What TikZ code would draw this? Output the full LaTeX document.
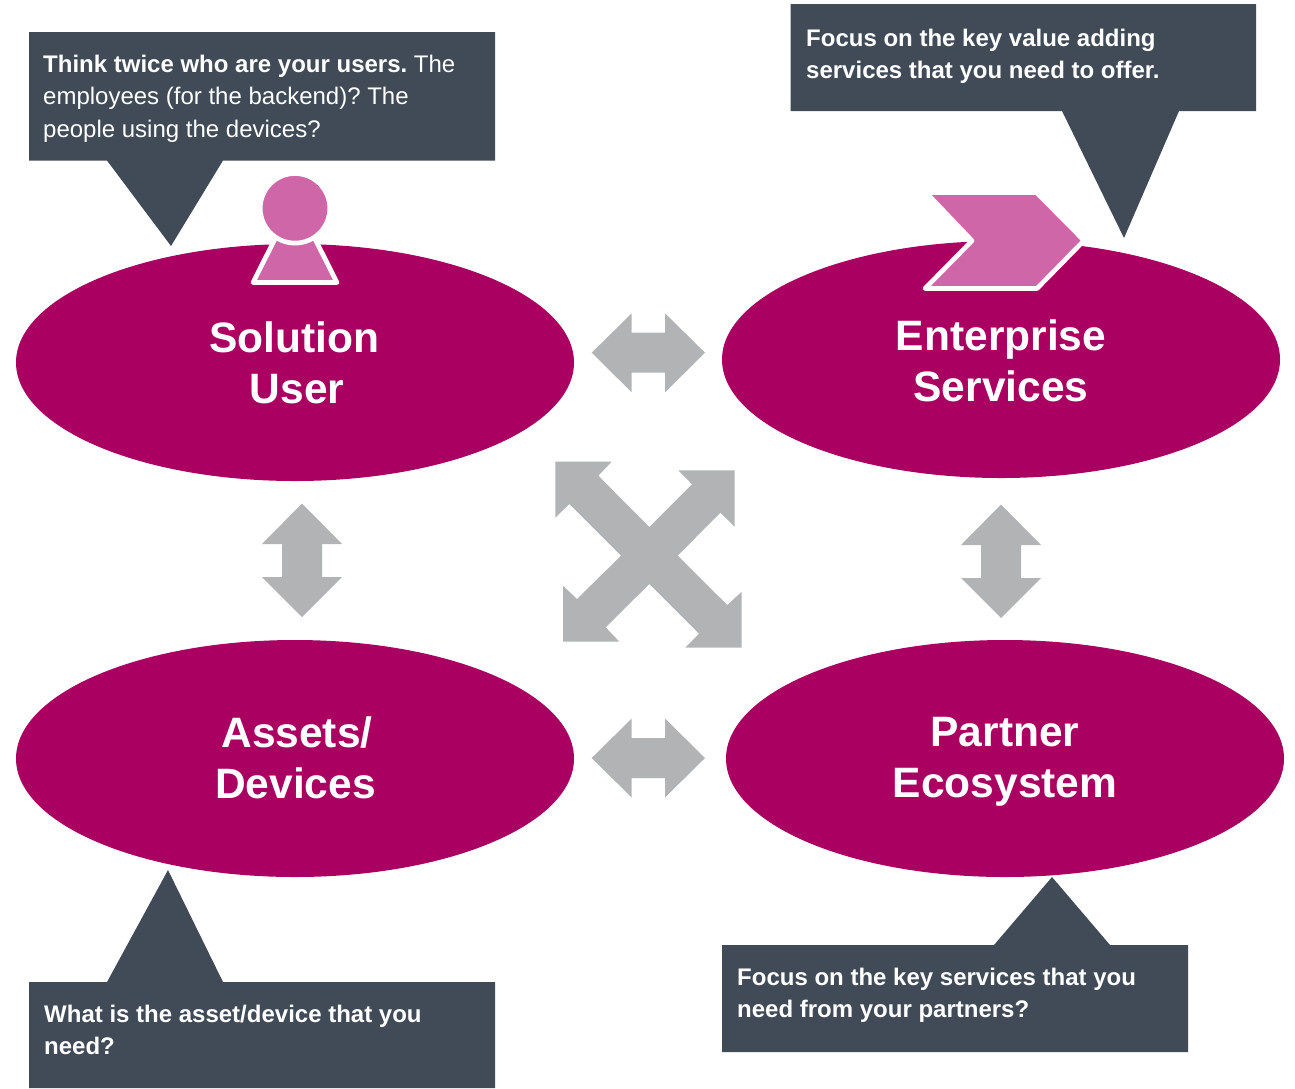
\documentclass[tikz,border=0pt]{standalone}
\usepackage{fontspec}
\setmainfont{Liberation Sans}
\usetikzlibrary{shapes.geometric}
\definecolor{berry}{HTML}{A90061}
\definecolor{lightberry}{HTML}{CE66A8}
\definecolor{slatebox}{HTML}{404B57}
\definecolor{arrowgrey}{HTML}{B1B3B5}
\tikzset{
  hub/.style={ellipse,fill=berry,minimum width=558pt,minimum height=237pt,inner sep=0pt},
  hubtext/.style={text=white,inner sep=0pt,align=center,
    font=\fontsize{42.5}{51}\selectfont\bfseries},
  callout/.style={fill=slatebox,draw=none},
  note/.style={anchor=north west,inner sep=0pt,text=white,align=left,
    font=\frenchspacing\fontsize{24}{32.3}\selectfont},
  blockarrow/.style={fill=arrowgrey,draw=none},
  icon/.style={fill=lightberry,draw=white,line width=4.7pt,line join=round},
}
\begin{document}
\begin{tikzpicture}[x=1pt,y=-1pt]
\useasboundingbox (0,0) rectangle (1295,1088);
% hubs
\node[hub] (user) at (295,362.5) {};
\node[hub] (ent) at (1001,359.5) {};
\node[hub] (dev) at (295,758.5) {};
\node[hub] (part) at (1005,758.5) {};
\node[hubtext] (userlabel) at (294,363) {Solution\\\hspace*{6pt}User};
\node[hubtext] (entlabel) at (1001,361) {Enterprise\\Services};
\node[hubtext] (devlabel) at (295.5,758) {\hspace*{3pt}Assets/\\Devices};
\node[hubtext] (partlabel) at (1005,762) {Partner\\Ecosystem};
% block arrows
\fill[blockarrow] (591.7,352.7)--(631.7,313.3)--(631.7,332.7)--(665,332.7)--(665,313.3)--(705,352.7)--(665,392.3)--(665,372.7)--(631.7,372.7)--(631.7,392.3)--cycle;
\fill[blockarrow] (591.7,758)--(631.7,718.5)--(631.7,738)--(665,738)--(665,718.5)--(705,758)--(665,797.5)--(665,778)--(631.7,778)--(631.7,797.5)--cycle;
\fill[blockarrow] (302,503.5)--(342,544)--(322,544)--(322,577)--(342,577)--(302,617)--(262,577)--(282,577)--(282,544)--(262,544)--cycle;
\fill[blockarrow] (1001,504.5)--(1041,545)--(1021,545)--(1021,578)--(1041,578)--(1001,618)--(961,578)--(981,578)--(981,545)--(961,545)--cycle;
\fill[blockarrow] (555.3,461.7)--(611.7,461.7)--(598.3,475.7)--(649.3,527)--(692,484.3)--(678.3,470.3)--(734.7,470.3)--(734.7,526.7)--(720.3,512.7)--(677.7,555.7)--(727.3,605)--(741.7,591.7)--(741.7,647.7)--(685.3,647.7)--(699,633.7)--(649.3,584)--(605.7,627.3)--(619.3,641.7)--(563,641.7)--(563,585.7)--(577,599)--(621,555.7)--(569.3,504)--(555.3,517.7)--cycle;
% person icon
\filldraw[icon] (282,225)--(253,282.5)--(337,282.5)--(308,225)--cycle;
\filldraw[icon] (295,208.3) circle[radius=34.8];
% chevron icon
\filldraw[icon] (926,192.5)--(1036.5,192.5)--(1084,240.5)--(1037,288.5)--(925,288.5)--(972,240.7)--cycle;
% callouts
\fill[callout] (29,32)--(495,32)--(495,160.5)--(223,160.5)--(171,246)--(107,160.5)--(29,160.5)--cycle;
\fill[callout] (790.5,4)--(1256,4)--(1256,111)--(1179,111)--(1124,238)--(1062,111)--(790.5,111)--cycle;
\fill[callout] (29,982)--(107,982)--(168,870)--(223,982)--(495,982)--(495,1088)--(29,1088)--cycle;
\fill[callout] (722,945)--(994,945)--(1052,877)--(1110,945)--(1188,945)--(1188,1052)--(722,1052)--cycle;
% callout texts
\node[note] (n1) at (43,55) {\textbf{Think twice who are your users.} The\\employees (for the backend)? The\\people using the devices?};
\node[note] (n2) at (806,29) {\textbf{Focus on the key value adding}\\\textbf{services that you need to offer.}};
\node[note] (n3) at (44,1005) {\textbf{What is the asset/device that you}\\\textbf{need?}};
\node[note] (n4) at (737,968) {\textbf{Focus on the key services that you}\\\textbf{need from your partners?}};
\end{tikzpicture}
\end{document}
